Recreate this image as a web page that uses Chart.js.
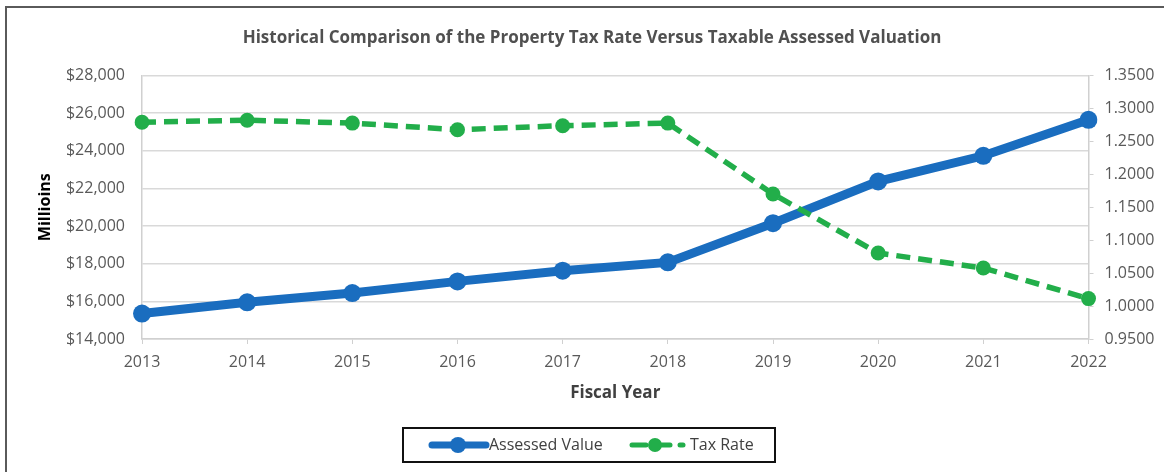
<!DOCTYPE html>
<html>
<head>
<meta charset="utf-8">
<script src="https://cdn.jsdelivr.net/npm/chart.js@4"></script>
<style>
html,body{margin:0;padding:0;background:#fff;}
#wrap{position:absolute;left:0;top:0;width:1164px;height:472px;overflow:hidden;}
#frame{position:absolute;left:5px;top:6px;width:1200px;height:500px;border-left:2px solid #5a5a5a;border-top:2px solid #5a5a5a;pointer-events:none;}
canvas{position:absolute;left:0;top:0;}
</style>
</head>
<body>
<div id="wrap">
<canvas id="c" width="1164" height="472"></canvas>
<div id="frame"></div>
</div>
<script>
const years = ['2013','2014','2015','2016','2017','2018','2019','2020','2021','2022'];
const assessedValue = [15350, 15950, 16440, 17060, 17630, 18070, 20150, 22370, 23730, 25640];
const taxRate = [1.2790, 1.2820, 1.2776, 1.2676, 1.2737, 1.2776, 1.1700, 1.0804, 1.0577, 1.0113];
const seriesNames = ['Assessed Value', 'Tax Rate'];
const chartTitle = 'Historical Comparison of the Property Tax Rate Versus Taxable Assessed Valuation';
const leftAxisTitle = 'Millioins';
const xAxisTitle = 'Fiscal Year';

const BLUE = '#1a6dbf';
const GREEN = '#22ae4a';
const FONT = "'Open Sans', 'DejaVu Sans', sans-serif";

const legendBox = {
  id: 'legendBox',
  afterDraw(chart) {
    const ctx = chart.ctx;
    ctx.save();
    ctx.strokeStyle = '#111';
    ctx.lineWidth = 2;
    ctx.strokeRect(403, 428, 372, 34);
    const cy = 445;
    // Assessed Value sample
    ctx.strokeStyle = BLUE;
    ctx.lineWidth = 7;
    ctx.lineCap = 'round';
    ctx.beginPath(); ctx.moveTo(432, cy); ctx.lineTo(486, cy); ctx.stroke();
    ctx.fillStyle = BLUE;
    ctx.beginPath(); ctx.arc(458, cy, 8, 0, Math.PI*2); ctx.fill();
    ctx.font = '16px ' + FONT;
    ctx.fillStyle = '#404040';
    ctx.textBaseline = 'middle';
    ctx.textAlign = 'left';
    ctx.fillText(seriesNames[0], 489, cy);
    // Tax Rate sample
    ctx.strokeStyle = GREEN;
    ctx.lineWidth = 5;
    ctx.beginPath(); ctx.moveTo(632, cy); ctx.lineTo(646, cy); ctx.stroke();
    ctx.beginPath(); ctx.moveTo(662, cy); ctx.lineTo(670, cy); ctx.stroke();
    ctx.beginPath(); ctx.moveTo(680, cy); ctx.lineTo(683, cy); ctx.stroke();
    ctx.fillStyle = GREEN;
    ctx.beginPath(); ctx.arc(655, cy, 7, 0, Math.PI*2); ctx.fill();
    ctx.fillStyle = '#404040';
    ctx.fillText(seriesNames[1], 690, cy);
    ctx.restore();
  }
};

new Chart(document.getElementById('c'), {
  type: 'line',
  data: {
    labels: years,
    datasets: [
      {
        label: seriesNames[0],
        data: assessedValue,
        yAxisID: 'y',
        borderColor: BLUE,
        backgroundColor: BLUE,
        borderWidth: 9,
        pointRadius: 9,
        pointBorderWidth: 0,
        pointBackgroundColor: BLUE,
        tension: 0,
        order: 2
      },
      {
        label: seriesNames[1],
        data: taxRate,
        yAxisID: 'y1',
        borderColor: GREEN,
        backgroundColor: GREEN,
        borderWidth: 5.5,
        borderDash: [14, 8],
        pointRadius: 7.5,
        pointBorderWidth: 0,
        pointBackgroundColor: GREEN,
        tension: 0,
        order: 1
      }
    ]
  },
  options: {
    responsive: false,
    animation: false,
    devicePixelRatio: 1,
    layout: { padding: { left: 30, right: 10, top: 10, bottom: 66 } },
    plugins: {
      legend: { display: false },
      tooltip: { enabled: false },
      title: {
        display: true,
        text: chartTitle,
        color: '#505050',
        font: { family: FONT, size: 17, weight: 'bold' },
        padding: { top: 18, bottom: 27 }
      }
    },
    scales: {
      x: {
        offset: false,
        grid: { drawOnChartArea: false, drawTicks: true, tickLength: 5, color: '#d0d0d0' },
        border: { color: '#d0d0d0', width: 1.5 },
        ticks: { color: '#595959', font: { family: FONT, size: 16 }, padding: 9, maxRotation: 0 },
        title: { display: true, text: xAxisTitle, color: '#404040', font: { family: FONT, size: 17, weight: 'bold' }, padding: { top: 4, bottom: 3 } },
        afterFit(s) { s.height = 67; }
      },
      y: {
        position: 'left',
        min: 14000, max: 28000,
        ticks: { stepSize: 2000, color: '#595959', font: { family: FONT, size: 16 }, padding: 17,
          callback: v => '$' + Number(v).toLocaleString('en-US') },
        grid: { color: '#d9d9d9', lineWidth: 1.5, drawTicks: false },
        border: { color: '#d0d0d0', width: 1.5 },
        title: { display: true, text: leftAxisTitle, color: '#000', font: { family: FONT, size: 16, weight: 'bold' }, padding: { top: 6, bottom: 0 } },
        afterFit(s) { s.width = 112; }
      },
      y1: {
        position: 'right',
        min: 0.95, max: 1.35,
        ticks: { stepSize: 0.05, color: '#595959', font: { family: FONT, size: 16 }, padding: 11,
          callback: v => Number(v).toFixed(4) },
        grid: { drawOnChartArea: false, drawTicks: true, tickLength: 5, color: '#d0d0d0' },
        border: { color: '#d0d0d0', width: 1.5 },
        afterFit(s) { s.width = 65.5; }
      }
    }
  },
  plugins: [legendBox]
});
</script>
</body>
</html>
